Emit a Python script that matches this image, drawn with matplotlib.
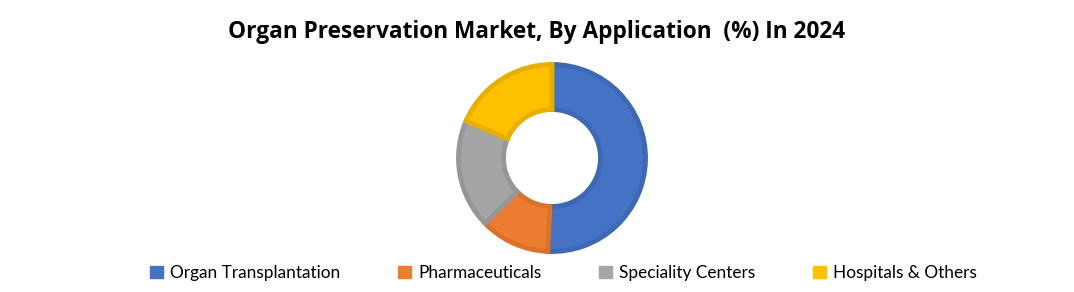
import matplotlib.pyplot as plt

# dados (leitura aproximada do gráfico)
categorias = ['Organ Transplantation', 'Pharmaceuticals', 'Speciality Centers', 'Hospitals & Others']
valores = [50.7, 12.0, 18.8, 18.5]
cores = ['#4472C4', '#ED7D31', '#A5A5A5', '#FFC000']
bordas = ['#3E68B4', '#D9722C', '#979797', '#E8AF00']

titulo = 'Organ Preservation Market, By Application  (%) In 2024'


def main():
    W, H = 1074, 292
    fig = plt.figure(figsize=(W / 100, H / 100), dpi=100)

    # eixo quadrado centrado na rosca
    cx, cy, lado = 552, 292 - 158, 200
    ax = fig.add_axes([(cx - lado / 2) / W, (cy - lado / 2) / H, lado / W, lado / H])

    wedges, _ = ax.pie(valores, colors=cores, startangle=90, counterclock=False,
                       radius=0.935,
                       wedgeprops=dict(width=0.45, linewidth=3.5))
    for w, b in zip(wedges, bordas):
        w.set_edgecolor(b)

    ax.set_xlim(-1, 1)
    ax.set_ylim(-1, 1)
    ax.set_aspect('equal')
    ax.axis('off')

    fig.text(537 / W, 1 - 32 / H, titulo, ha='center', va='center',
             fontsize=16.3, fontweight='bold', family='Open Sans')

    handles = [plt.Rectangle((0, 0), 1, 1, color=c) for c in cores]
    fig.legend(handles, categorias, loc='center', bbox_to_anchor=(563.5 / W, 1 - 273 / H),
               ncol=4, frameon=False, prop={'family': 'Lato', 'size': 12.4},
               handlelength=0.75, handleheight=0.75, handletextpad=0.4,
               columnspacing=3.37)

    fig.savefig('out.png', dpi=100)


if __name__ == "__main__":
    main()
